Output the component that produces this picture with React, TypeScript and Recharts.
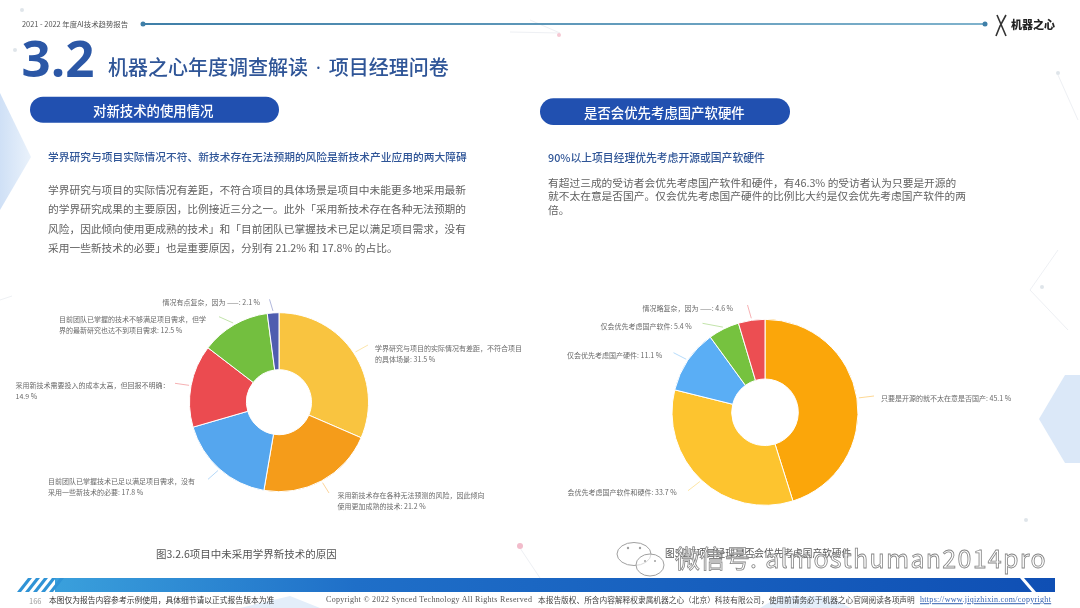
import React from "react";
import { PieChart, Pie, Cell } from "recharts";

const LEFT_NAMES = [
  "学界研究与项目的实际情况有差距，不符合项目\n的具体场景",
  "采用新技术存在各种无法预测的风险，因此倾向\n使用更加成熟的技术",
  "目前团队已掌握技术已足以满足项目需求，没有\n采用一些新技术的必要",
  "采用新技术需要投入的成本太高，但回报不明确：\n",
  "目前团队已掌握的技术不够满足项目需求，但学\n界的最新研究也达不到项目需求",
  "情况有点复杂，因为 ——",
];
const LEFT_VALUES = [31.5, 21.2, 17.8, 14.9, 12.5, 2.1];
const LEFT_COLORS = ["#F9C440", "#F59C1A", "#55A6EE", "#EB4B50", "#73BF3F", "#4F5DAF"];

const RIGHT_NAMES = [
  "只要是开源的就不太在意是否国产",
  "会优先考虑国产软件和硬件",
  "仅会优先考虑国产硬件",
  "仅会优先考虑国产软件",
  "情况略复杂，因为 ——",
];
const RIGHT_VALUES = [45.1, 33.7, 11.1, 5.4, 4.6];
const RIGHT_COLORS = ["#FBA60A", "#FDC42F", "#5AAEF5", "#76C23F", "#EC4E52"];

const LEFT_BODY = [
  "学界研究与项目的实际情况有差距，不符合项目的具体场景是项目中未能更多地采用最新",
  "的学界研究成果的主要原因，比例接近三分之一。此外「采用新技术存在各种无法预期的",
  "风险，因此倾向使用更成熟的技术」和「目前团队已掌握技术已足以满足项目需求，没有",
  "采用一些新技术的必要」也是重要原因，分别有 21.2% 和 17.8% 的占比。",
];
const RIGHT_BODY = [
  "有超过三成的受访者会优先考虑国产软件和硬件，有46.3% 的受访者认为只要是开源的",
  "就不太在意是否国产。仅会优先考虑国产硬件的比例比大约是仅会优先考虑国产软件的两",
  "倍。",
];

const RAD = Math.PI / 180;
const CJK = '"Noto Sans CJK SC", "Noto Sans", sans-serif';

// label text x / first line y, then where the leader line ends
const LEFT_LABEL_POS = [
  { x: 375, y: 348.3, lx: 368, ly: 345 },
  { x: 337.5, y: 495, lx: 329, ly: 493 },
  { x: 48, y: 481, lx: 208, ly: 479.3 },
  { x: 15.5, y: 385.3, lx: 175, ly: 383.3 },
  { x: 59, y: 319.3, lx: 219, ly: 316.7 },
  { x: 162.5, y: 302, lx: 269.5, ly: 299.3 },
];
const RIGHT_LABEL_POS = [
  { x: 881, y: 398, lx: 874, ly: 396 },
  { x: 567.5, y: 492, lx: 688, ly: 490.7 },
  { x: 567, y: 355, lx: 673.5, ly: 352.7 },
  { x: 600.5, y: 326.3, lx: 702.5, ly: 323.3 },
  { x: 642.5, y: 308.3, lx: 747.5, ly: 305 },
];

function makeLabel(pos: typeof LEFT_LABEL_POS, colors: string[]) {
  return function PieLabel(props: any) {
    const { cx, cy, midAngle, outerRadius, index, name, value } = props;
    const p = pos[index];
    const sx = cx + (outerRadius + 2) * Math.cos(-midAngle * RAD);
    const sy = cy + (outerRadius + 2) * Math.sin(-midAngle * RAD);
    const text = name.endsWith("\n") ? `${name}${value} %` : `${name}: ${value} %`;
    return (
      <g>
        <path
          d={`M${sx},${sy}L${p.lx},${p.ly}`}
          stroke={colors[index]}
          strokeOpacity={0.55}
          strokeWidth={0.8}
          fill="none"
        />
        {text.split("\n").map((line: string, i: number) => (
          <text
            key={i}
            x={p.x}
            y={p.y + i * 11}
            fontSize={7}
            fontFamily={CJK}
            fill="#6a6a6a"
            dominantBaseline="central"
          >
            {line}
          </text>
        ))}
      </g>
    );
  };
}

const leftData = LEFT_NAMES.map((name, i) => ({ name, value: LEFT_VALUES[i] }));
const rightData = RIGHT_NAMES.map((name, i) => ({ name, value: RIGHT_VALUES[i] }));

function T({ x, y, size, color = "#666", weight = 400, font = CJK, style, children }: any) {
  return (
    <div
      style={{
        position: "absolute",
        left: x,
        top: y,
        transform: "translateY(-50%)",
        fontSize: size,
        color,
        fontWeight: weight,
        fontFamily: font,
        whiteSpace: "nowrap",
        lineHeight: 1.2,
        ...style,
      }}
    >
      {children}
    </div>
  );
}

function Backdrop() {
  return (
    <svg width={1080} height={608} style={{ position: "absolute", left: 0, top: 0 }}>
      <defs>
        <linearGradient id="band" x1="0" x2="1" y1="0" y2="0">
          <stop offset="0" stopColor="#3aa0dc" />
          <stop offset="0.3" stopColor="#1f6fc8" />
          <stop offset="1" stopColor="#0f4fb4" />
        </linearGradient>
        <linearGradient id="rule" x1="0" x2="1" y1="0" y2="0">
          <stop offset="0" stopColor="#3f7fa8" />
          <stop offset="1" stopColor="#7fb2cc" />
        </linearGradient>
        <linearGradient id="chev" x1="0" x2="1" y1="0" y2="0">
          <stop offset="0" stopColor="#cfe0f6" />
          <stop offset="1" stopColor="#eaf2fb" />
        </linearGradient>
      </defs>
      {/* pale shapes */}
      <polygon points="0,93 31,157 0,210" fill="url(#chev)" />
      <polygon points="1080,375 1065,375 1039,419 1065,463 1080,463" fill="#dbe8f8" />
      <polygon points="240,608 290,596 320,608" fill="#e3eefa" />
      <polygon points="760,608 780,596 830,596 850,608" fill="#e3eefa" />
      {/* faint network */}
      <g stroke="#eef0f4" strokeWidth={1} fill="none">
        <polyline points="510,32 560,33 530,20" />
        <polyline points="1058,75 1078,120" />
        <polyline points="1058,250 1030,290 1068,330" />
        <polyline points="520,548 540,578" />
        <polyline points="0,300 12,296" />
      </g>
      <circle cx="520" cy="546" r="3" fill="#f2bccb" />
      <circle cx="559" cy="35" r="2" fill="#f6c9d4" />
      <circle cx="1058" cy="73" r="2" fill="#dfe5ea" />
      <circle cx="22" cy="10" r="2" fill="#dfe5ea" />
      <circle cx="15" cy="50" r="2" fill="#dfe5ea" />
      <circle cx="1042" cy="287" r="2" fill="#dfe5ea" />
      <circle cx="1026" cy="520" r="2" fill="#dfe5ea" />
      {/* header rule */}
      <rect x={143} y={23} width={842} height={2} fill="url(#rule)" />
      <circle cx={143} cy={24} r={2.5} fill="#3f7fa8" />
      <circle cx={985} cy={24} r={2.5} fill="#3f7fa8" />
      {/* logo mark */}
      <path d="M997,15 L1006,36 M1006,15 L1000,26 L996,36" stroke="#333" strokeWidth={1.6} fill="none" />
      {/* pills */}
      <rect x={30} y={96.7} width={249} height={26} rx={13} fill="#2150b0" />
      <rect x={540} y={98.3} width={250} height={26.7} rx={13.3} fill="#2150b0" />
      {/* footer band */}
      <rect x={55} y={578} width={1000} height={14} fill="url(#band)" />
      {[0, 1, 2, 3, 4].map((i) => (
        <polygon
          key={i}
          points={`${17 + i * 8},592 ${21 + i * 8},592 ${32 + i * 8},578 ${28 + i * 8},578`}
          fill="#2f93d6"
        />
      ))}
      <polygon points="1020,578 1024,578 1036,592 1032,592" fill="#fff" />
    </svg>
  );
}

// sits above the captions, like the watermark in the picture
function WechatMark() {
  return (
    <svg width={1080} height={608} style={{ position: "absolute", left: 0, top: 0 }}>
      <g fill="#fff" fillOpacity={0.6} stroke="#a0a0a0" strokeWidth={1}>
        <ellipse cx="634" cy="554" rx="17" ry="11.5" />
        <ellipse cx="650" cy="565" rx="14" ry="11" />
      </g>
      <g fill="#a0a0a0">
        <circle cx="628" cy="548" r="1.2" />
        <circle cx="640" cy="548" r="1.2" />
        <circle cx="645" cy="561" r="1" />
        <circle cx="655" cy="561" r="1" />
      </g>
    </svg>
  );
}

export default function App() {
  return (
    <div
      style={{
        position: "absolute",
        left: 0,
        top: 0,
        width: 1080,
        height: 608,
        overflow: "hidden",
        background: "#fff",
        filter: "blur(0.45px)",
      }}
    >
      <Backdrop />

      <T x={22} y={24} size={7.4} color="#555">2021 - 2022 年度AI技术趋势报告</T>
      <T x={1011} y={25} size={11} color="#222" weight={900}>机器之心</T>
      <T x={21.5} y={56.5} size={51} color="#2b57a6" weight={700} font='"Open Sans", sans-serif' style={{ lineHeight: 0.75 }}>3.2</T>
      <T x={108} y={67} size={20} color="#2f5597" weight={500}>
        机器之心年度调查解读<span style={{ fontFamily: '"Open Sans", sans-serif', margin: "0 2.5px" }}> · </span>项目经理问卷
      </T>

      <T x={93} y={110} size={13.4} color="#fff" weight={500}>对新技术的使用情况</T>
      <T x={584} y={111.5} size={13.4} color="#fff" weight={500}>是否会优先考虑国产软硬件</T>

      <T x={48} y={157} size={10.74} color="#2f5597" weight={500}>学界研究与项目实际情况不符、新技术存在无法预期的风险是新技术产业应用的两大障碍</T>
      <T x={548} y={157} size={10.8} color="#2f5597" weight={500}>90%以上项目经理优先考虑开源或国产软硬件</T>

      {LEFT_BODY.map((line, i) => (
        <T key={i} x={48} y={190 + i * 19.4} size={10.72} color="#626262">{line}</T>
      ))}
      {RIGHT_BODY.map((line, i) => (
        <T key={i} x={548} y={182.7 + i * 13.6} size={10.72} color="#626262">{line}</T>
      ))}

      <div style={{ position: "absolute", left: 0, top: 0 }}>
        <PieChart width={1080} height={608} margin={{ top: 0, right: 0, bottom: 0, left: 0 }}>
          <Pie
            data={leftData}
            dataKey="value"
            nameKey="name"
            cx={279}
            cy={402.2}
            innerRadius={32.5}
            outerRadius={89.5}
            startAngle={90}
            endAngle={-270}
            stroke="#fff"
            strokeWidth={1}
            label={makeLabel(LEFT_LABEL_POS, LEFT_COLORS)}
            labelLine={false}
            isAnimationActive={false}
          >
            {leftData.map((_, i) => (
              <Cell key={i} fill={LEFT_COLORS[i]} />
            ))}
          </Pie>
          <Pie
            data={rightData}
            dataKey="value"
            nameKey="name"
            cx={765}
            cy={412.3}
            innerRadius={33.3}
            outerRadius={93}
            startAngle={90}
            endAngle={-270}
            stroke="#fff"
            strokeWidth={1}
            label={makeLabel(RIGHT_LABEL_POS, RIGHT_COLORS)}
            labelLine={false}
            isAnimationActive={false}
          >
            {rightData.map((_, i) => (
              <Cell key={i} fill={RIGHT_COLORS[i]} />
            ))}
          </Pie>
        </PieChart>
      </div>

      <T x={156} y={554} size={10.5} color="#555">图3.2.6项目中未采用学界新技术的原因</T>
      <T x={665} y={554} size={9.7} color="#555">图3.2.7项目经理是否会优先考虑国产软硬件</T>
      <WechatMark />
      <T
        x={675}
        y={557}
        size={25}
        color="rgba(255,255,255,0.55)"
        style={{ WebkitTextStroke: "0.8px #858585" }}
      >
        微信号<span style={{ letterSpacing: 1.3 }}>: almosthuman2014pro</span>
      </T>

      <T x={29} y={600} size={7.5} color="#9a9a9a">166</T>
      <T x={49} y={600} size={7.78} color="#333">本图仅为报告内容参考示例使用，具体细节请以正式报告版本为准</T>
      <T x={326} y={600} size={8} color="#555" font='"Liberation Serif", serif' style={{ letterSpacing: 0.3 }}>Copyright © 2022 Synced Technology  All Rights Reserved</T>
      <T x={538} y={600} size={7.7} color="#444">本报告版权、所含内容解释权隶属机器之心（北京）科技有限公司，使用前请务必于机器之心官网阅读各项声明</T>
      <T x={920} y={600} size={8} color="#2f5fb0" font='"Liberation Serif", serif' style={{ textDecoration: "underline", letterSpacing: 0.3 }}>https://www.jiqizhixin.com/copyright</T>
    </div>
  );
}
